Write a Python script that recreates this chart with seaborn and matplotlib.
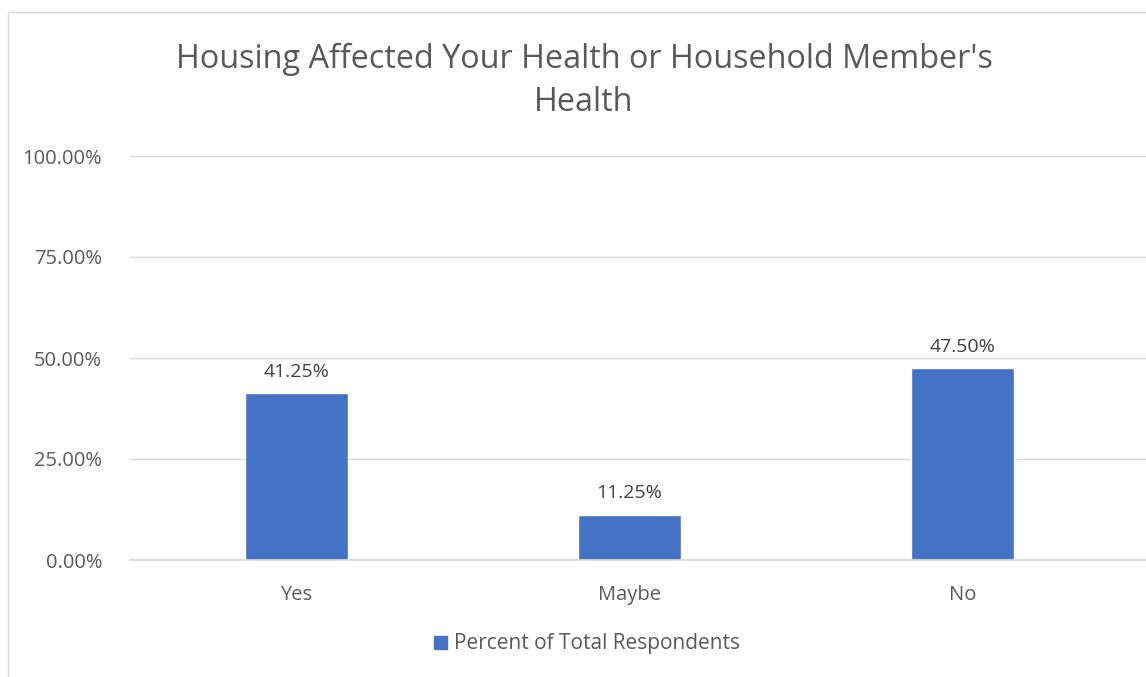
import matplotlib
matplotlib.use("Agg")
import matplotlib.pyplot as plt
import seaborn as sns
import pandas as pd
from matplotlib.ticker import FuncFormatter, MultipleLocator
from matplotlib.patches import Rectangle

categories = ["Yes", "Maybe", "No"]
values = [41.25, 11.25, 47.50]
series_name = "Percent of Total Respondents"
title = "Housing Affected Your Health or Household Member's\nHealth"

df = pd.DataFrame({"cat": categories, "val": values, "series": series_name})

sns.set_theme(style="white")
plt.rcParams['font.family'] = ['Open Sans', 'DejaVu Sans']

fig = plt.figure(figsize=(11.46, 6.77), dpi=100)
ax = fig.add_axes([130/1146, 1-560/677, 1016/1146, 404/677])

blue = "#4472C4"
sns.barplot(data=df, x="cat", y="val", hue="series", palette=[blue],
            width=0.31, ax=ax, legend=True, saturation=1)

ax.set_ylim(0, 100)
# category axis extends slightly past the last category on the right (cropped chart)
ax.set_xlim(-0.5, 2.5 + 17/333)
ax.yaxis.set_major_locator(MultipleLocator(25))
ax.yaxis.set_major_formatter(FuncFormatter(lambda v, p: f"{v:.2f}%"))
ax.grid(axis="y", color="#D9D9D9", linewidth=1)
ax.set_axisbelow(True)
for s in ["top", "right", "left"]:
    ax.spines[s].set_visible(False)
ax.spines["bottom"].set_color("#D9D9D9")
ax.set_xlabel("")
ax.set_ylabel("")
ax.tick_params(axis="y", length=0, labelsize=14.5, colors="#595959", pad=20)
ax.tick_params(axis="x", length=0, labelsize=14.5, colors="#595959", pad=18)

for c in ax.containers:
    ax.bar_label(c, labels=[f"{v:.2f}%" for v in values], padding=9,
                 fontsize=14, color="#404040")

ax.get_legend().remove()
fig.legend(handles=[Rectangle((0, 0), 1, 1, color=blue)], labels=[series_name],
           loc="center", bbox_to_anchor=(587/1146, 1-644/677), frameon=False,
           fontsize=15, handlelength=0.6, handleheight=0.6, handletextpad=0.35,
           labelcolor="#595959")

fig.text(584/1146, 1-81/677, title, ha="center", va="center", fontsize=23.3,
         color="#595959", linespacing=1.37)

fig.add_artist(Rectangle((8/1146, -0.01), 1.2, 1-12/677+0.01, transform=fig.transFigure,
                         fill=False, edgecolor="#D9D9D9", linewidth=1))

fig.savefig("out.png", dpi=100)
